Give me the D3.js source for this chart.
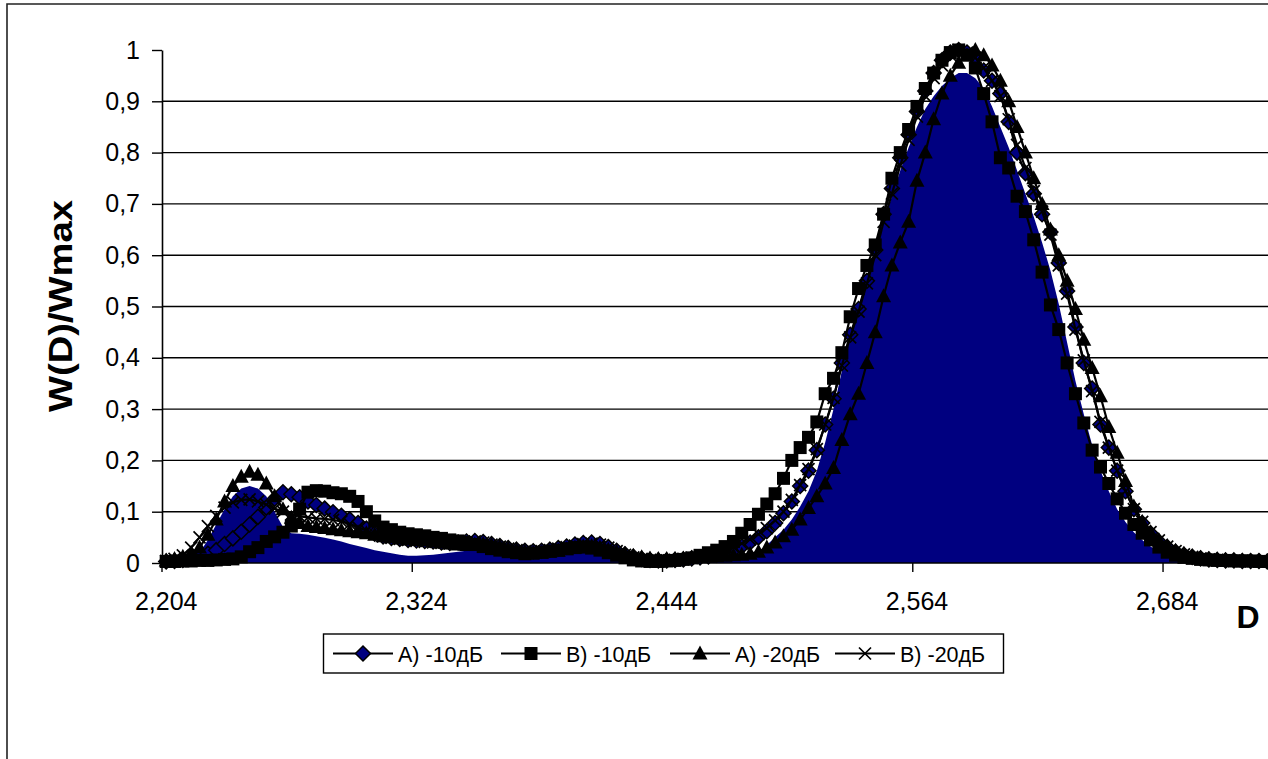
<!DOCTYPE html>
<html>
<head>
<meta charset="utf-8">
<script src="https://cdn.jsdelivr.net/npm/d3@7"></script>
<style>
  body { margin: 0; background: #fff; }
  svg { display: block; }
  text { font-family: Arial, "Liberation Sans", sans-serif; fill: #000; }
</style>
</head>
<body>
<svg id="chart" width="1268" height="759"></svg>
<script>
// Droplet diameter D (categories, step 0.004)
const categories = [
  2.204, 2.208, 2.212, 2.216, 2.220, 2.224, 2.228, 2.232, 2.236, 2.240,
  2.244, 2.248, 2.252, 2.256, 2.260, 2.264, 2.268, 2.272, 2.276, 2.280,
  2.284, 2.288, 2.292, 2.296, 2.300, 2.304, 2.308, 2.312, 2.316, 2.320,
  2.324, 2.328, 2.332, 2.336, 2.340, 2.344, 2.348, 2.352, 2.356, 2.360,
  2.364, 2.368, 2.372, 2.376, 2.380, 2.384, 2.388, 2.392, 2.396, 2.400,
  2.404, 2.408, 2.412, 2.416, 2.420, 2.424, 2.428, 2.432, 2.436, 2.440,
  2.444, 2.448, 2.452, 2.456, 2.460, 2.464, 2.468, 2.472, 2.476, 2.480,
  2.484, 2.488, 2.492, 2.496, 2.500, 2.504, 2.508, 2.512, 2.516, 2.520,
  2.524, 2.528, 2.532, 2.536, 2.540, 2.544, 2.548, 2.552, 2.556, 2.560,
  2.564, 2.568, 2.572, 2.576, 2.580, 2.584, 2.588, 2.592, 2.596, 2.600,
  2.604, 2.608, 2.612, 2.616, 2.620, 2.624, 2.628, 2.632, 2.636, 2.640,
  2.644, 2.648, 2.652, 2.656, 2.660, 2.664, 2.668, 2.672, 2.676, 2.680,
  2.684, 2.688, 2.692, 2.696, 2.700, 2.704, 2.708, 2.712, 2.716, 2.720,
  2.724, 2.728, 2.732, 2.736, 2.740
];

// Filled distribution (navy area)
const areaValues = [
  0.000, 0.000, 0.002, 0.008, 0.020, 0.045, 0.075, 0.105, 0.130, 0.145,
  0.150, 0.145, 0.130, 0.100, 0.070, 0.058, 0.057, 0.055, 0.052, 0.049,
  0.046, 0.042, 0.037, 0.033, 0.029, 0.025, 0.022, 0.019, 0.016, 0.014,
  0.014, 0.015, 0.016, 0.018, 0.020, 0.022, 0.024, 0.025, 0.024, 0.021,
  0.018, 0.015, 0.013, 0.012, 0.012, 0.013, 0.015, 0.017, 0.020, 0.023,
  0.025, 0.026, 0.024, 0.020, 0.015, 0.010, 0.006, 0.004, 0.003, 0.002,
  0.002, 0.003, 0.003, 0.004, 0.004, 0.005, 0.006, 0.007, 0.008, 0.010,
  0.012, 0.020, 0.035, 0.050, 0.065, 0.085, 0.110, 0.140, 0.180, 0.235,
  0.300, 0.375, 0.440, 0.500, 0.555, 0.610, 0.665, 0.715, 0.765, 0.810,
  0.850, 0.885, 0.910, 0.930, 0.945, 0.955, 0.955, 0.945, 0.925, 0.890,
  0.850, 0.810, 0.765, 0.720, 0.675, 0.625, 0.570, 0.505, 0.430, 0.355,
  0.290, 0.230, 0.180, 0.140, 0.105, 0.080, 0.060, 0.045, 0.032, 0.022,
  0.014, 0.009, 0.006, 0.004, 0.003, 0.002, 0.002, 0.002, 0.002, 0.002,
  0.002, 0.002, 0.002, 0.002, 0.002
];

// A) -10 dB
const seriesA10 = [
  0.003, 0.004, 0.006, 0.009, 0.013, 0.018, 0.025, 0.037, 0.048, 0.061,
  0.075, 0.090, 0.108, 0.125, 0.138, 0.134, 0.128, 0.120, 0.113, 0.106,
  0.099, 0.092, 0.085, 0.078, 0.067, 0.057, 0.052, 0.049, 0.047, 0.045,
  0.044, 0.043, 0.042, 0.040, 0.039, 0.040, 0.042, 0.043, 0.041, 0.037,
  0.033, 0.029, 0.026, 0.024, 0.023, 0.024, 0.026, 0.029, 0.032, 0.036,
  0.039, 0.040, 0.037, 0.031, 0.024, 0.017, 0.012, 0.008, 0.006, 0.005,
  0.005, 0.006, 0.007, 0.009, 0.011, 0.013, 0.016, 0.020, 0.025, 0.032,
  0.040, 0.050, 0.062, 0.078, 0.097, 0.120, 0.150, 0.180, 0.220, 0.270,
  0.320, 0.390, 0.445, 0.495, 0.550, 0.610, 0.680, 0.730, 0.790, 0.835,
  0.880, 0.920, 0.955, 0.980, 0.995, 1.000, 0.995, 0.985, 0.960, 0.940,
  0.915, 0.860, 0.800, 0.760, 0.720, 0.680, 0.645, 0.585, 0.530, 0.460,
  0.390, 0.340, 0.270, 0.225, 0.180, 0.140, 0.105, 0.078, 0.058, 0.042,
  0.031, 0.022, 0.016, 0.012, 0.009, 0.007, 0.006, 0.005, 0.005, 0.004,
  0.004, 0.004, 0.003, 0.003, 0.003
];

// B) -10 dB
const seriesB10 = [
  0.003, 0.003, 0.004, 0.004, 0.005, 0.005, 0.006, 0.007, 0.008, 0.012,
  0.022, 0.030, 0.042, 0.051, 0.060, 0.072, 0.105, 0.138, 0.141, 0.140,
  0.137, 0.135, 0.130, 0.120, 0.100, 0.082, 0.070, 0.065, 0.060, 0.057,
  0.055, 0.053, 0.050, 0.048, 0.045, 0.043, 0.040, 0.036, 0.032, 0.028,
  0.025, 0.022, 0.020, 0.018, 0.019, 0.021, 0.023, 0.025, 0.028, 0.030,
  0.031, 0.029, 0.025, 0.020, 0.015, 0.010, 0.006, 0.004, 0.003, 0.003,
  0.004, 0.005, 0.007, 0.010, 0.015, 0.020, 0.025, 0.032, 0.042, 0.058,
  0.075, 0.095, 0.115, 0.135, 0.165, 0.200, 0.225, 0.245, 0.275, 0.330,
  0.360, 0.410, 0.480, 0.535, 0.580, 0.620, 0.680, 0.750, 0.800, 0.845,
  0.890, 0.925, 0.955, 0.980, 0.995, 1.000, 0.990, 0.965, 0.915, 0.860,
  0.790, 0.770, 0.715, 0.685, 0.630, 0.567, 0.503, 0.455, 0.390, 0.330,
  0.273, 0.220, 0.187, 0.155, 0.125, 0.097, 0.075, 0.058, 0.045, 0.031,
  0.021, 0.015, 0.011, 0.009, 0.007, 0.006, 0.005, 0.005, 0.004, 0.004,
  0.004, 0.003, 0.003, 0.003, 0.003
];

// A) -20 dB
const seriesA20 = [
  0.005, 0.008, 0.012, 0.020, 0.030, 0.055, 0.085, 0.120, 0.150, 0.168,
  0.178, 0.172, 0.155, 0.130, 0.105, 0.088, 0.078, 0.072, 0.070, 0.068,
  0.066, 0.064, 0.062, 0.060, 0.058, 0.055, 0.052, 0.050, 0.048, 0.046,
  0.045, 0.044, 0.042, 0.040, 0.038, 0.036, 0.035, 0.036, 0.037, 0.035,
  0.032, 0.028, 0.025, 0.022, 0.020, 0.020, 0.022, 0.024, 0.027, 0.030,
  0.032, 0.033, 0.030, 0.026, 0.022, 0.018, 0.014, 0.011, 0.009, 0.008,
  0.008, 0.008, 0.009, 0.010, 0.011, 0.012, 0.013, 0.014, 0.015, 0.016,
  0.018, 0.022, 0.030, 0.040, 0.052, 0.065, 0.085, 0.107, 0.130, 0.155,
  0.185, 0.240, 0.290, 0.330, 0.390, 0.450, 0.520, 0.580, 0.625, 0.665,
  0.745, 0.800, 0.865, 0.915, 0.950, 0.975, 0.990, 1.000, 0.990, 0.970,
  0.940, 0.900, 0.850, 0.800, 0.750, 0.700, 0.650, 0.600, 0.550, 0.495,
  0.435, 0.380, 0.325, 0.265, 0.215, 0.160, 0.110, 0.080, 0.060, 0.045,
  0.033, 0.024, 0.018, 0.013, 0.010, 0.008, 0.007, 0.006, 0.005, 0.005,
  0.004, 0.004, 0.004, 0.003, 0.003
];

// B) -20 dB
const seriesB20 = [
  0.004, 0.008, 0.015, 0.030, 0.050, 0.072, 0.092, 0.108, 0.118, 0.123,
  0.124, 0.120, 0.114, 0.106, 0.100, 0.095, 0.091, 0.089, 0.087, 0.086,
  0.084, 0.081, 0.076, 0.070, 0.063, 0.057, 0.052, 0.049, 0.047, 0.045,
  0.043, 0.041, 0.040, 0.039, 0.038, 0.039, 0.040, 0.042, 0.040, 0.036,
  0.032, 0.028, 0.025, 0.023, 0.022, 0.023, 0.025, 0.028, 0.031, 0.034,
  0.037, 0.038, 0.036, 0.030, 0.023, 0.016, 0.011, 0.008, 0.006, 0.005,
  0.005, 0.006, 0.008, 0.010, 0.013, 0.016, 0.020, 0.025, 0.031, 0.038,
  0.046, 0.056, 0.068, 0.083, 0.100, 0.123, 0.152, 0.183, 0.222, 0.270,
  0.322, 0.385, 0.440, 0.490, 0.545, 0.600, 0.665, 0.720, 0.775, 0.825,
  0.870, 0.910, 0.945, 0.970, 0.990, 1.000, 0.995, 0.985, 0.965, 0.940,
  0.910, 0.865, 0.815, 0.770, 0.725, 0.685, 0.640, 0.580, 0.525, 0.455,
  0.395, 0.335, 0.275, 0.225, 0.180, 0.140, 0.105, 0.080, 0.060, 0.044,
  0.032, 0.023, 0.017, 0.012, 0.009, 0.007, 0.006, 0.005, 0.004, 0.004,
  0.003, 0.003, 0.003, 0.003, 0.003
];

const seriesNames = ["A) -10дБ", "B) -10дБ", "A) -20дБ", "B) -20дБ"];
const xTickValues = [2.204, 2.324, 2.444, 2.564, 2.684];
const xTickLabels = ["2,204", "2,324", "2,444", "2,564", "2,684"];
const yTickValues = [0, 0.1, 0.2, 0.3, 0.4, 0.5, 0.6, 0.7, 0.8, 0.9, 1];
const yTickLabels = ["0", "0,1", "0,2", "0,3", "0,4", "0,5", "0,6", "0,7", "0,8", "0,9", "1"];

const W = 1268, H = 759;
const svg = d3.select("#chart");

const plotLeft = 162, step = 8.342;
const x = d3.scaleBand()
  .domain(categories)
  .range([plotLeft, plotLeft + categories.length * step])
  .padding(0);
const cx = d => x(d) + x.bandwidth() / 2;
const y = d3.scaleLinear().domain([0, 1]).range([563, 50]);

// outer chart frame (left and top edges fall inside the view)
svg.append("path")
  .attr("d", `M7,${H} V4 H${W}`)
  .attr("fill", "none").attr("stroke", "#222").attr("stroke-width", 1.6);

// horizontal gridlines
svg.append("g").selectAll("line")
  .data(yTickValues.filter(v => v > 0 && v < 1))
  .join("line")
  .attr("x1", plotLeft).attr("x2", W)
  .attr("y1", d => y(d)).attr("y2", d => y(d))
  .attr("stroke", "#000").attr("stroke-width", 1.4);

// navy distribution area
const area = d3.area()
  .x((d, i) => cx(categories[i]))
  .y0(y(0))
  .y1(d => y(d));
svg.append("path")
  .datum(areaValues)
  .attr("d", area)
  .attr("fill", "#000080");

// y axis
const yAxis = d3.axisLeft(y)
  .tickValues(yTickValues)
  .tickFormat((d, i) => yTickLabels[i])
  .tickSize(10).tickSizeOuter(0).tickPadding(12);
const gy = svg.append("g").attr("transform", `translate(${plotLeft},0)`).call(yAxis);
gy.select(".domain").attr("stroke", "#000").attr("stroke-width", 1.6);
gy.selectAll(".tick line").attr("stroke", "#000").attr("stroke-width", 1.4);
gy.selectAll(".tick text")
  .attr("font-size", 25).attr("font-family", "Arial, 'Liberation Sans', sans-serif")
  .attr("fill", "#000");

// x axis: ticks on category boundaries, labels centred on the category
const gx = svg.append("g");
gx.append("line")
  .attr("x1", plotLeft).attr("x2", W)
  .attr("y1", y(0)).attr("y2", y(0))
  .attr("stroke", "#000").attr("stroke-width", 1.6);
gx.selectAll("line.tick")
  .data(xTickValues)
  .join("line").attr("class", "tick")
  .attr("x1", d => x(d)).attr("x2", d => x(d))
  .attr("y1", y(0)).attr("y2", y(0) + 9)
  .attr("stroke", "#000").attr("stroke-width", 1.4);
gx.selectAll("text")
  .data(xTickValues)
  .join("text")
  .attr("x", d => cx(d))
  .attr("y", 610)
  .attr("text-anchor", "middle")
  .attr("font-size", 25)
  .text((d, i) => xTickLabels[i]);

// marker shapes
const markerPaths = {
  diamond: "M0,-7.5L7.5,0L0,7.5L-7.5,0Z",
  square: "M-6.5,-6.5H6.5V6.5H-6.5Z",
  triangle: "M0,-8L7.5,6H-7.5Z",
  cross: "M-6,-6L6,6M6,-6L-6,6"
};
const seriesStyle = [
  { values: seriesA10, marker: "diamond", fill: "#000080", stroke: "#000", sw: 1.5 },
  { values: seriesB10, marker: "square", fill: "#000", stroke: "none", sw: 0 },
  { values: seriesA20, marker: "triangle", fill: "#000", stroke: "none", sw: 0 },
  { values: seriesB20, marker: "cross", fill: "none", stroke: "#000", sw: 1.7 }
];

const line = d3.line()
  .x((d, i) => cx(categories[i]))
  .y(d => y(d));

seriesStyle.forEach(s => {
  const g = svg.append("g");
  g.append("path")
    .datum(s.values)
    .attr("d", line)
    .attr("fill", "none")
    .attr("stroke", "#000")
    .attr("stroke-width", 2.2);
  g.selectAll("path.m")
    .data(s.values)
    .join("path").attr("class", "m")
    .attr("transform", (d, i) => `translate(${cx(categories[i])},${y(d)})`)
    .attr("d", markerPaths[s.marker])
    .attr("fill", s.fill)
    .attr("stroke", s.stroke)
    .attr("stroke-width", s.sw);
});

// axis titles
svg.append("text")
  .attr("transform", "translate(72,306) rotate(-90)")
  .attr("text-anchor", "middle")
  .attr("font-size", 34)
  .attr("font-weight", "bold")
  .attr("textLength", 212)
  .attr("lengthAdjust", "spacingAndGlyphs")
  .text("W(D)/Wmax");

svg.append("text")
  .attr("x", 1248).attr("y", 628)
  .attr("text-anchor", "middle")
  .attr("font-size", 32)
  .attr("font-weight", "bold")
  .text("D");

// legend
const legend = svg.append("g");
legend.append("rect")
  .attr("x", 323.5).attr("y", 634)
  .attr("width", 680).attr("height", 39)
  .attr("fill", "#fff").attr("stroke", "#000").attr("stroke-width", 1.4);
const legendX = [333, 501, 670, 835];
const legendItems = legend.selectAll("g.item")
  .data(seriesStyle)
  .join("g").attr("class", "item")
  .attr("transform", (d, i) => `translate(${legendX[i]},653.5)`);
legendItems.append("line")
  .attr("x1", 0).attr("x2", 60).attr("y1", 0).attr("y2", 0)
  .attr("stroke", "#000").attr("stroke-width", 2.2);
legendItems.append("path")
  .attr("transform", "translate(30,0)")
  .attr("d", d => markerPaths[d.marker])
  .attr("fill", d => d.fill)
  .attr("stroke", d => d.stroke)
  .attr("stroke-width", d => d.sw);
legendItems.append("text")
  .attr("x", 65).attr("y", 8)
  .attr("font-size", 21.5)
  .text((d, i) => seriesNames[i]);
</script>
</body>
</html>
